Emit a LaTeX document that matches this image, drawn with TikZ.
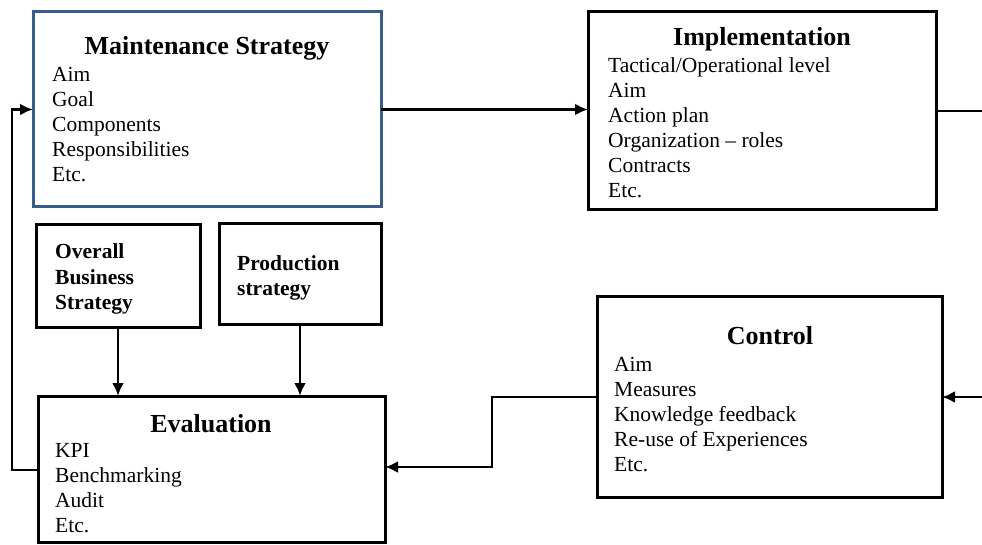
\documentclass[tikz,border=0pt]{standalone}
\usepackage{fontspec}
\setmainfont{Liberation Serif}
\usetikzlibrary{arrows.meta}
\definecolor{StratClr}{RGB}{56,93,138}

\tikzset{
  blk/.style={draw, line width=3pt, inner sep=0pt, outer sep=0pt, anchor=north west},
  ttl/.style={font=\fontsize{26}{30}\selectfont\bfseries, inner sep=0pt, anchor=base},
  itm/.style={font=\fontsize{21.5}{25}\selectfont, inner sep=0pt, anchor=base west},
  bitm/.style={itm, font=\fontsize{21.5}{25}\selectfont\bfseries},
  flow/.style={line width=2.8pt, -{Latex[length=13pt,width=12pt]}},
  wire/.style={line width=2.8pt}
}

\begin{document}
\begin{tikzpicture}[x=1pt,y=-1pt]
\useasboundingbox (0,0) rectangle (982,545);

% boxes
\node[blk, draw=StratClr, minimum width=348pt, minimum height=195pt] (ms) at (33,12) {};
\node[blk, minimum width=348pt, minimum height=198pt] (impl) at (588,12) {};
\node[blk, minimum width=164pt, minimum height=102pt] (obs) at (36,225) {};
\node[blk, minimum width=162pt, minimum height=100pt] (ps) at (219,224) {};
\node[blk, minimum width=347pt, minimum height=146pt] (eval) at (38,396) {};
\node[blk, minimum width=345pt, minimum height=201pt] (ctrl) at (597,296) {};

% titles
\node[ttl] (msT) at (207,55) {Maintenance Strategy};
\node[ttl] (implT) at (762,46) {Implementation};
\node[ttl] (evalT) at (211,432) {Evaluation};
\node[ttl] (ctrlT) at (770,344) {Control};

% box contents
\foreach \txt [count=\i] in {Aim,Goal,Components,Responsibilities,Etc.}
  \node[itm] (ms\i) at (52,{57+25*\i}) {\txt};
\foreach \txt [count=\i] in {Tactical/Operational level,Aim,Action plan,Organization – roles,Contracts,Etc.}
  \node[itm] (impl\i) at (608,{48+25*\i}) {\txt};
\foreach \txt [count=\i] in {KPI,Benchmarking,Audit,Etc.}
  \node[itm] (eval\i) at (55,{432+25*\i}) {\txt};
\foreach \txt [count=\i] in {Aim,Measures,Knowledge feedback,Re-use of Experiences,Etc.}
  \node[itm] (ctrl\i) at (614,{346+25*\i}) {\txt};
\foreach \txt [count=\i] in {Overall,Business,Strategy}
  \node[bitm] (obs\i) at (55,{234+25*\i}) {\txt};
\foreach \txt [count=\i] in {Production,strategy}
  \node[bitm] (ps\i) at (237,{245+25*\i}) {\txt};

% connectors
\coordinate (outR) at (982,110);
\coordinate (inR) at (982,397);
\coordinate (bendC) at (492,467);
\coordinate (bendE) at (12,470);

\draw[flow] (ms.east) -- (ms.east -| impl.west);
\draw[wire] (impl.east) -- (impl.east -| outR);
\draw[flow] (inR) -- (inR -| ctrl.east);
\draw[flow] (ctrl.west |- inR) -| (bendC) -- (bendC -| eval.east);
\draw[flow] (eval.west |- bendE) -- (bendE) |- (ms.west);
\draw[flow] (obs.south) -- (obs.south |- eval.north);
\draw[flow] (ps.south) -- (ps.south |- eval.north);

\end{tikzpicture}
\end{document}
